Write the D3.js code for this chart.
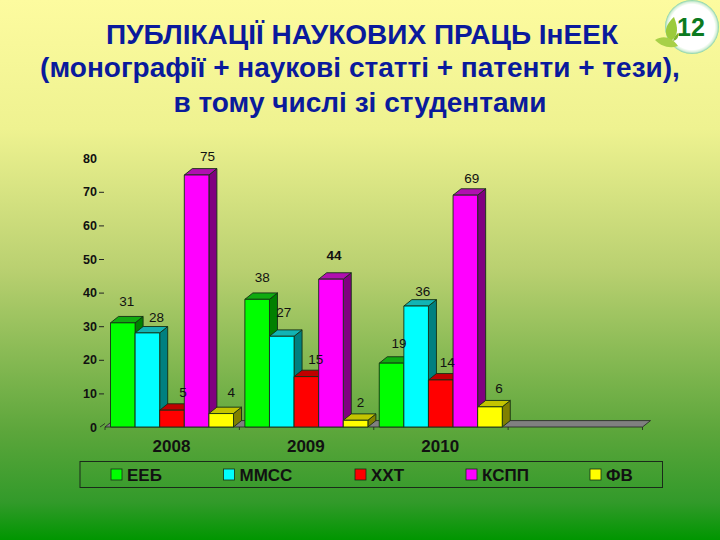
<!DOCTYPE html>
<html><head><meta charset="utf-8">
<script src="https://cdnjs.cloudflare.com/ajax/libs/d3/7.8.5/d3.min.js"></script>
<style>html,body{margin:0;padding:0;background:#fff}svg{display:block}text{font-family:"Liberation Sans",Arial,sans-serif}</style>
</head><body><svg id="c" width="720" height="540"></svg>
<script>
const categories = ["2008","2009","2010",""];
const seriesNames = ["ЕЕБ","ММСС","ХХТ","КСПП","ФВ"];
const eeb  = [31,38,19];
const mmcc = [28,27,36];
const xxt  = [5,15,14];
const kspp = [75,44,69];
const fv   = [4,2,6];
const yTicks = [0,10,20,30,40,50,60,70,80];
const titleLines = ["ПУБЛІКАЦІЇ НАУКОВИХ ПРАЦЬ ІнЕЕК","(монографії + наукові статті + патенти + тези),","в тому числі зі студентами"];
const pageNumber = "12";

const seriesValues = [eeb,mmcc,xxt,kspp,fv];
const front = ["#00ff00","#00ffff","#ff0000","#ff00ff","#ffff00"];
const side  = ["#008000","#008080","#800000","#800080","#808000"];
const top_  = ["#10ab10","#12b4b4","#c00000","#b010b0","#c4c400"];
// hand-placed label nudges of the original slide [series][category] -> [dx,dy]
const labelNudge = [
 [[4,-21],[5,-22],[7.5,-20]],
 [[9,-15],[2,-24],[6.5,-15]],
 [[11,-18],[9.5,-17],[6.5,-17]],
 [[11,-19],[3,-24],[6.5,-17]],
 [[10,-21],[5,-18],[9,-18]]
];
const boldLabel = (s,c)=> s===3 && c===1;

const svg = d3.select("#c");
const defs = svg.append("defs");
const g = defs.append("linearGradient").attr("id","bg").attr("x1",0).attr("y1",0).attr("x2",0).attr("y2",1);
[[0,"#fdfb9f"],[0.24,"#eef290"],[0.5,"#b9d070"],[0.8,"#5ca63b"],[0.93,"#329a2a"],[1,"#009600"]].forEach(s=>g.append("stop").attr("offset",s[0]).attr("stop-color",s[1]));
const rim = defs.append("radialGradient").attr("id","rim");
[[0,"#ffffff"],[0.84,"#ffffff"],[0.93,"#d8f0d8"],[1,"#7fd0a8"]].forEach(s=>rim.append("stop").attr("offset",s[0]).attr("stop-color",s[1]));
svg.append("rect").attr("width",720).attr("height",540).attr("fill","url(#bg)");

// title
svg.append("g").selectAll("text").data(titleLines).join("text")
  .attr("x",(d,i)=>[362,360,360][i]).attr("y",(d,i)=>[44,77,112][i])
  .attr("text-anchor","middle").attr("font-size",28).attr("font-weight","bold").attr("fill","#0a1a9c").text(d=>d);

// badge
const badge = svg.append("g");
badge.append("circle").attr("cx",692).attr("cy",27).attr("r",27).attr("fill","url(#rim)");
badge.append("path").attr("d","M671 41 C662 34 666 24 674 17 C678 27 679 35 671 41Z").attr("fill","#9ccb3c");
badge.append("path").attr("d","M655 40 C663 35 672 37 678 46 C669 49 661 46 655 40Z").attr("fill","#a8d048");
badge.append("path").attr("d","M673 41 C674 37 676 35 678 33 C679 37 677 40 673 41Z").attr("fill","#7fb52e");
badge.append("text").attr("x",691).attr("y",36).attr("text-anchor","middle").attr("font-size",25).attr("font-weight","bold").attr("fill","#0c7a20").text(pageNumber);

// scales
const y = d3.scaleLinear().domain([0,80]).range([427,158.2]);
const x = d3.scaleBand().domain(categories).range([105,642.5]).paddingInner(0).paddingOuter(0);
const inner = d3.scaleBand().domain(d3.range(5)).range([5.5,128.5]);
const dx = 8, dy = 6.4;

// floor
const fy = y(0), fl = x.range()[0], fr = x.range()[1];
svg.append("path").attr("d",`M${fl} ${fy}L${fl+dx} ${fy-dy}L${fr+dx} ${fy-dy}L${fr} ${fy}Z`)
  .attr("fill","#808080").attr("stroke","#222").attr("stroke-width",0.8);
svg.append("g").selectAll("line").data(x.range().concat(x.domain().slice(1).map(c=>x(c)))).join("line")
  .attr("x1",d=>d).attr("x2",d=>d).attr("y1",fy).attr("y2",fy+3).attr("stroke","#222").attr("stroke-width",0.8);

// bars
const bars = svg.append("g");
categories.slice(0,3).forEach((c,ci)=>{
  seriesValues.forEach((vals,si)=>{
    const v = vals[ci], x0 = x(c)+inner(si), w = inner.bandwidth(), yt = y(v), b = y(0);
    const gb = bars.append("g").attr("stroke","#143014").attr("stroke-width",0.9).attr("stroke-linejoin","round");
    gb.append("path").attr("d",`M${x0+w} ${yt}L${x0+w+dx} ${yt-dy}L${x0+w+dx} ${b-dy}L${x0+w} ${b}Z`).attr("fill",side[si]);
    gb.append("path").attr("d",`M${x0} ${yt}L${x0+dx} ${yt-dy}L${x0+w+dx} ${yt-dy}L${x0+w} ${yt}Z`).attr("fill",top_[si]);
    gb.append("rect").attr("x",x0).attr("y",yt).attr("width",w).attr("height",b-yt).attr("fill",front[si]);
  });
});

// y axis
const ax = svg.append("g").attr("transform","translate(105,0)")
  .call(d3.axisLeft(y).tickValues(yTicks).tickSize(5).tickPadding(3));
ax.select(".domain").remove();
ax.selectAll(".tick line").attr("x1",-6).attr("x2",-1).attr("stroke","#222")
  .attr("display",d=>(d===0||d===80)?"none":null);
ax.selectAll(".tick text").attr("x",-8).attr("font-size",12.5).attr("font-weight","bold").attr("fill","#111")
  .attr("font-family","'Liberation Sans',Arial,sans-serif");
svg.append("line").attr("x1",100).attr("x2",105).attr("y1",y(0)).attr("y2",y(0)-3.5).attr("stroke","#222").attr("stroke-width",0.8);

// data labels
const labels = svg.append("g");
seriesValues.forEach((vals,si)=>vals.forEach((v,ci)=>{
  labels.append("text")
    .attr("x",x(categories[ci])+inner(si)+inner.bandwidth()/2+labelNudge[si][ci][0])
    .attr("y",y(v)+labelNudge[si][ci][1]+4.5)
    .attr("text-anchor","middle").attr("font-size",13.5)
    .attr("font-weight",boldLabel(si,ci)?"bold":"normal").attr("fill","#111").text(v);
}));

// category labels
svg.append("g").selectAll("text").data(categories.slice(0,3)).join("text")
  .attr("x",d=>x(d)+inner.range()[0]+(inner.range()[1]-inner.range()[0])/2-0.5)
  .attr("y",452).attr("text-anchor","middle").attr("font-size",17).attr("font-weight","bold").attr("fill","#111").text(d=>d);

// legend
svg.append("rect").attr("x",80).attr("y",461.5).attr("width",582.5).attr("height",26)
  .attr("fill","none").attr("stroke","#1a2a1a").attr("stroke-width",1);
const legendX = [111,223.5,355,466,590];
const lg = svg.append("g").selectAll("g").data(seriesNames).join("g")
  .attr("transform",(d,i)=>`translate(${legendX[i]},469)`);
lg.append("rect").attr("width",11).attr("height",11).attr("fill",(d,i)=>front[i]).attr("stroke","#143014").attr("stroke-width",0.8);
lg.append("text").attr("x",16).attr("y",11.5).attr("font-size",17).attr("font-weight","bold").attr("fill","#111").text(d=>d);
</script></body></html>
